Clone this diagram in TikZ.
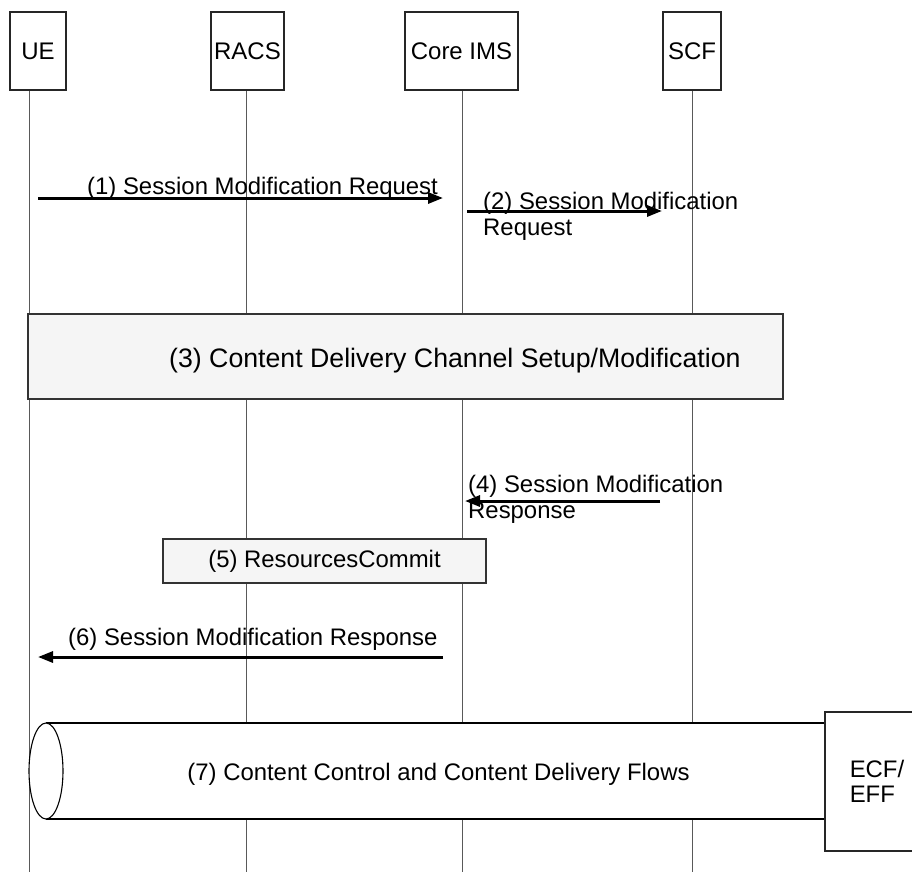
\documentclass[tikz,border=0pt]{standalone}
\usepackage{fontspec}
\setmainfont{Liberation Sans}
\usetikzlibrary{arrows.meta}
\begin{document}
\begin{tikzpicture}[x=1pt,y=-1pt,
  life/.style={draw=black!65, line width=1pt},
  hdr/.style={draw=black!85, line width=1.2pt, fill=white, inner sep=0pt, font=\fontsize{24}{25}\selectfont},
  msg/.style={line width=3pt, -{Triangle[length=15pt,width=11pt]}},
  lbl/.style={inner sep=0pt, font=\fontsize{23.9}{26}\selectfont, align=left},
  proc/.style={draw=black!80, line width=1.2pt, fill=black!4, inner sep=0pt, font=\fontsize{23.9}{26}\selectfont},
  tube/.style={draw=black, line width=1.1pt, fill=white}
]
\useasboundingbox (0,0) rectangle (912,872);
% lifelines
\foreach \n/\x in {ue/29, racs/246, core/462, scf/692}{
  \coordinate (\n-top) at (\x,90);
  \coordinate (\n-bot) at (\x,872);
  \draw[life] (\n-top) -- (\n-bot);
}
% headers
\node[hdr, minimum width=56pt, minimum height=78pt] (ue) at (38,51) {UE};
\node[hdr, minimum width=73pt, minimum height=78pt] (racs) at (247.5,51) {RACS};
\node[hdr, minimum width=113pt, minimum height=78pt] (core) at (461.5,51) {Core IMS};
\node[hdr, minimum width=58pt, minimum height=78pt] (scf) at (692,51) {SCF};
% (1)
\coordinate (m1s) at (38,198);
\coordinate (m1e) at (443,198);
\draw[msg] (m1s) -- (m1e);
\node[lbl, anchor=base west] (l1) at (87,194) {(1) Session Modification Request};
% (2)
\coordinate (m2s) at (467,211);
\coordinate (m2e) at (662,211);
\draw[msg] (m2s) -- (m2e);
\node[lbl, anchor=base west] (l2) at (483,235) {(2) Session Modification\\Request};
% (3)
\node[proc, minimum width=755pt, minimum height=85pt] (p3) at (405.5,356.5) {};
\node[lbl, font=\fontsize{26.7}{30}\selectfont, anchor=base west] (t3) at (169,367) {(3) Content Delivery Channel Setup/Modification};
% (4)
\coordinate (m4s) at (660,501);
\coordinate (m4e) at (465,501);
\draw[msg] (m4s) -- (m4e);
\node[lbl, anchor=base west] (l4) at (468,518) {(4) Session Modification\\Response};
% (5)
\node[proc, minimum width=323pt, minimum height=44pt] (p5) at (324.5,561) {(5) ResourcesCommit};
% (6)
\coordinate (m6s) at (443,657);
\coordinate (m6e) at (38,657);
\draw[msg] (m6s) -- (m6e);
\node[lbl, anchor=base west] (l6) at (68,645) {(6) Session Modification Response};
% (7) tube
\coordinate (c7) at (46,771);
\fill[white] (46,723) rectangle (825,819);
\draw[tube] (46,723) -- (825,723);
\draw[tube] (46,819) -- (825,819);
\draw[tube] (c7) ellipse [x radius=17pt, y radius=48pt];
\node[lbl, anchor=base] (t7) at (438.5,780) {(7) Content Control and Content Delivery Flows};
% ECF/EFF
\node[hdr, minimum width=104pt, minimum height=139pt, align=left, font=\fontsize{23.9}{25}\selectfont] (ecf) at (877,781.5) {ECF/\\EFF};
\end{tikzpicture}
\end{document}
